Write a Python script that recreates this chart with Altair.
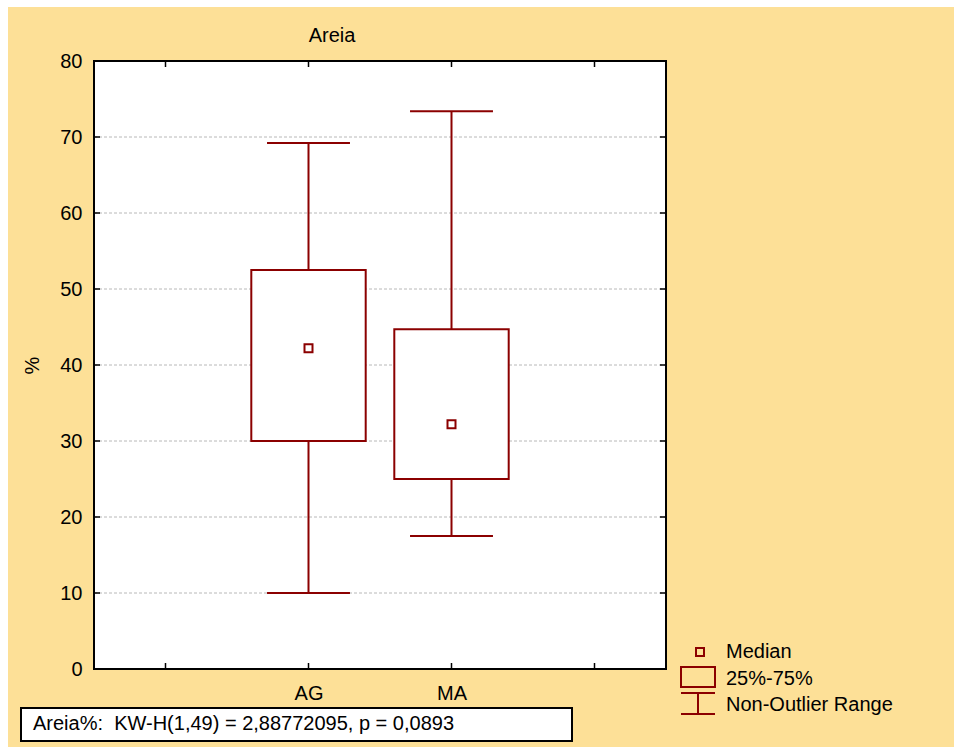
import altair as alt
import pandas as pd

# ---- data ----
categories = ["AG", "MA"]
cat_pos = [2, 3]
whisker_low = [10.0, 17.5]
q1 = [30.0, 25.0]
median = [42.2, 32.2]
q3 = [52.5, 44.7]
whisker_high = [69.2, 73.4]

y_ticks = [0, 10, 20, 30, 40, 50, 60, 70, 80]
x_ticks = [1, 2, 3, 4]
grid_values = [10, 20, 30, 40, 50, 60, 70]
legend_labels = ["Median", "25%-75%", "Non-Outlier Range"]
title_text = "Areia"
y_title = "%"
stat_text = "Areia%:\u00a0\u00a0KW-H(1,49) = 2,88772095, p = 0,0893"

# ---- layout / style ----
W, H = 572, 608
PAD = {"left": 94, "top": 61, "right": 288, "bottom": 78}
BG = "#FDE097"
RED = "#8B0000"
FONT = "Liberation Sans"
FS = 20
BOX_HALF = 0.4
CAP_HALF = 0.29

one = pd.DataFrame({"k": [0]})

box_df = pd.DataFrame({
    "cat": categories, "pos": cat_pos, "lo": whisker_low, "q1": q1,
    "med": median, "q3": q3, "hi": whisker_high,
})

xs = alt.Scale(domain=[0.5, 4.5], nice=False, zero=False)
ys = alt.Scale(domain=[0, 80], nice=False, zero=False)

label_expr = " : ".join(
    [f"datum.value == {p} ? '{c}'" for p, c in zip(cat_pos, categories)] + ["''"]
)

x_axis = alt.Axis(values=cat_pos, labelExpr=label_expr, title=None, domain=False,
                  ticks=False, grid=False, labelFont=FONT, labelFontSize=FS,
                  labelColor="black", labelPadding=14, zindex=1)
y_axis = alt.Axis(values=y_ticks, title=y_title, domain=False, ticks=False, grid=False,
                  labelFont=FONT, labelFontSize=FS, labelColor="black", labelPadding=12,
                  titleFont=FONT, titleFontSize=FS, titleFontWeight="normal",
                  titleColor="black", titleX=-62, titleY=304, titleAngle=270,
                  titleBaseline="middle", titleAlign="center", zindex=1)

# background (orange), plot area (white)
bg = alt.Chart(one).mark_rect(color=BG).encode(
    x=alt.value(-86), x2=alt.value(W + PAD["right"]),
    y=alt.value(-54), y2=alt.value(H + PAD["bottom"]))
plot_bg = alt.Chart(one).mark_rect(color="white").encode(
    x=alt.value(0), x2=alt.value(W), y=alt.value(0), y2=alt.value(H))

grid = alt.Chart(pd.DataFrame({"v": grid_values})).mark_rule(
    color="#b8b8b8", strokeWidth=1, strokeDash=[3, 2]).encode(
    y=alt.Y("v:Q", scale=ys, axis=y_axis), x=alt.value(0), x2=alt.value(W))

base = alt.Chart(box_df).transform_calculate(
    bl="datum.pos - %f" % BOX_HALF, br="datum.pos + %f" % BOX_HALF,
    cl="datum.pos - %f" % CAP_HALF, cr="datum.pos + %f" % CAP_HALF)

whisk = base.mark_rule(color=RED, strokeWidth=2).encode(
    x=alt.X("pos:Q", scale=xs, axis=x_axis), y=alt.Y("lo:Q", scale=ys), y2="hi:Q")
cap_lo = base.mark_rule(color=RED, strokeWidth=2).encode(
    x=alt.X("cl:Q", scale=xs), x2="cr:Q", y=alt.Y("lo:Q", scale=ys))
cap_hi = base.mark_rule(color=RED, strokeWidth=2).encode(
    x=alt.X("cl:Q", scale=xs), x2="cr:Q", y=alt.Y("hi:Q", scale=ys))
box = base.mark_rect(fill="white", stroke=RED, strokeWidth=2).encode(
    x=alt.X("bl:Q", scale=xs), x2="br:Q", y=alt.Y("q1:Q", scale=ys), y2="q3:Q")
med = base.mark_point(shape="square", filled=False, color=RED, size=64,
                      strokeWidth=2, opacity=1).encode(
    x=alt.X("pos:Q", scale=xs), y=alt.Y("med:Q", scale=ys))

# inward ticks on all four sides
ydf = pd.DataFrame({"v": y_ticks})
xdf = pd.DataFrame({"v": x_ticks})
tk = dict(color="black", strokeWidth=1.5)
t_left = alt.Chart(ydf).mark_rule(**tk).encode(
    y=alt.Y("v:Q", scale=ys), x=alt.value(0), x2=alt.value(6))
t_right = alt.Chart(ydf).mark_rule(**tk).encode(
    y=alt.Y("v:Q", scale=ys), x=alt.value(W - 6), x2=alt.value(W))
t_bot = alt.Chart(xdf).mark_rule(**tk).encode(
    x=alt.X("v:Q", scale=xs), y=alt.value(H - 6), y2=alt.value(H))
t_top = alt.Chart(xdf).mark_rule(**tk).encode(
    x=alt.X("v:Q", scale=xs), y=alt.value(0), y2=alt.value(6))

frame = alt.Chart(one).mark_rect(fillOpacity=0, stroke="black", strokeWidth=2).encode(
    x=alt.value(0), x2=alt.value(W), y=alt.value(0), y2=alt.value(H))

title = alt.Chart(one).mark_text(font=FONT, fontSize=FS, color="black",
                                 align="center", baseline="alphabetic").encode(
    x=alt.value(238), y=alt.value(-19), text=alt.value(title_text))

# legend
leg_df = pd.DataFrame({"label": legend_labels, "i": list(range(len(legend_labels)))})
leg_text = alt.Chart(leg_df).transform_calculate(
    py="597 + datum.i * 26.5").mark_text(
    font=FONT, fontSize=FS, color="black", align="left", baseline="alphabetic").encode(
    x=alt.value(632), y=alt.Y("py:Q", scale=None), text="label:N")
leg_med = alt.Chart(one).mark_point(shape="square", filled=False, color=RED, size=64,
                                    strokeWidth=2, opacity=1).encode(
    x=alt.value(606), y=alt.value(591))
leg_box = alt.Chart(one).mark_rect(fill=BG, stroke=RED, strokeWidth=2).encode(
    x=alt.value(587), x2=alt.value(621), y=alt.value(606), y2=alt.value(626))
leg_w1 = alt.Chart(one).mark_rule(color=RED, strokeWidth=2).encode(
    x=alt.value(604), y=alt.value(632), y2=alt.value(653))
leg_w2 = alt.Chart(one).mark_rule(color=RED, strokeWidth=2).encode(
    x=alt.value(587), x2=alt.value(621), y=alt.value(632))
leg_w3 = alt.Chart(one).mark_rule(color=RED, strokeWidth=2).encode(
    x=alt.value(587), x2=alt.value(621), y=alt.value(653))

# statistic annotation box
ann_box = alt.Chart(one).mark_rect(fill="white", stroke="black", strokeWidth=2).encode(
    x=alt.value(-73), x2=alt.value(478), y=alt.value(647), y2=alt.value(680))
ann_text = alt.Chart(one).mark_text(font=FONT, fontSize=FS, color="black",
                                    align="left", baseline="alphabetic").encode(
    x=alt.value(-61), y=alt.value(669), text=alt.value(stat_text))

chart = alt.layer(
    bg, plot_bg, grid, whisk, cap_lo, cap_hi, box, med,
    t_left, t_right, t_bot, t_top, frame, title,
    leg_med, leg_box, leg_w1, leg_w2, leg_w3, leg_text, ann_box, ann_text,
).properties(
    width=W, height=H, padding=PAD, background="white",
    autosize=alt.AutoSizeParams(type="none"),
).configure_view(strokeWidth=0)

chart.save("out.html", embed_options={"renderer": "svg", "actions": False})
